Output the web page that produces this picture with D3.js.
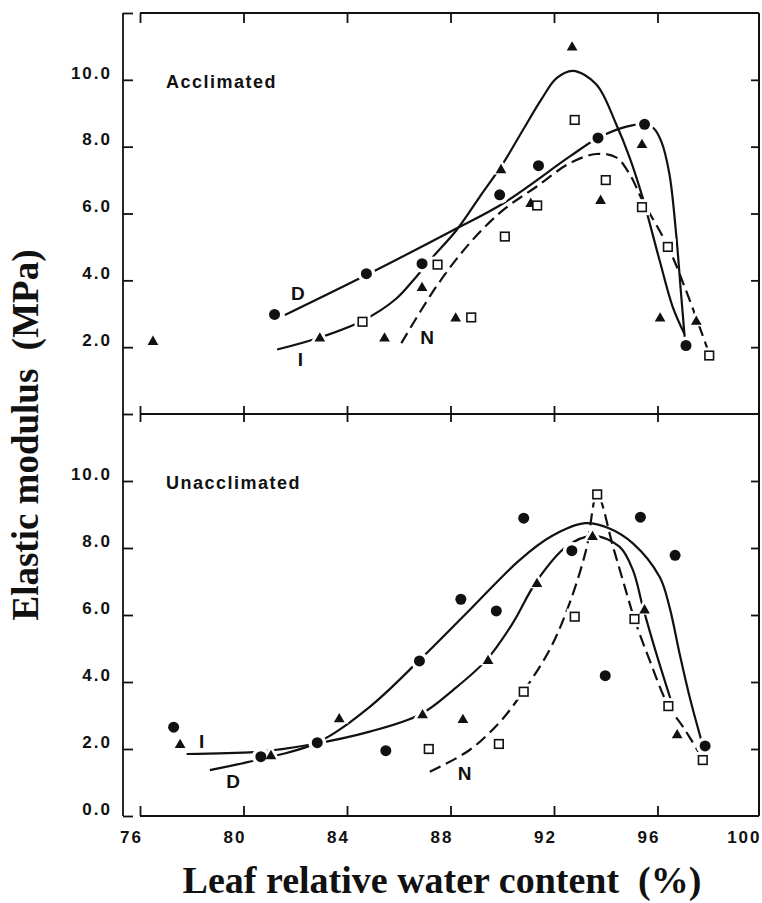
<!DOCTYPE html>
<html><head><meta charset="utf-8">
<script src="https://cdn.jsdelivr.net/npm/d3@7"></script>
<style>body{margin:0;background:#fff}</style>
</head><body><svg id="c" width="762" height="903"></svg>
<script>
// ---------- DATA ----------
const xTickValues = [76, 80, 84, 88, 92, 96, 100];
const yTickValuesTop = [2, 4, 6, 8, 10];
const yTickValuesBottom = [0, 2, 4, 6, 8, 10];
const panelTitles = ["Acclimated", "Unacclimated"];
const xTitle = "Leaf relative water content  (%)";
const yTitle = "Elastic modulus  (MPa)";

// Acclimated: observed points (RWC %, MPa)
const accD_pts = [[81.2,2.98],[84.75,4.2],[86.9,4.5],[89.9,6.56],[91.4,7.43],[93.7,8.26],[95.5,8.67],[97.1,2.05]];
const accI_pts = [[76.5,2.19],[82.95,2.29],[85.45,2.29],[86.9,3.8],[88.2,2.89],[89.95,7.33],[91.1,6.32],[92.7,11.0],[93.8,6.41],[95.4,8.08],[96.1,2.89],[97.5,2.79]];
const accN_pts = [[84.6,2.76],[87.5,4.47],[88.8,2.89],[90.1,5.31],[91.35,6.24],[92.8,8.8],[94.0,7.0],[95.4,6.19],[96.4,5.0],[98.0,1.75]];
// Acclimated: fitted curves
const accD_fit = [[81.6,2.96],[84.88,4.21],[88.1,5.5],[90.03,6.3],[92.6,7.7],[93.7,8.26],[94.8,8.6],[95.5,8.67],[95.85,8.55],[96.15,8.15],[96.46,7.18],[96.72,5.39],[96.91,3.6],[97.05,2.3]];
const accI_fit = [[81.3,1.93],[82.95,2.29],[84.62,2.8],[85.9,3.45],[86.68,4.11],[87.33,4.71],[88.23,5.5],[89.13,6.5],[90.03,7.5],[90.8,8.5],[91.5,9.4],[92.1,10.05],[92.73,10.27],[93.63,9.87],[94.4,8.68],[94.92,7.68],[95.42,6.49],[96.08,4.6],[96.59,3.2],[97.04,2.4]];
const accN_fit = [[86.1,2.12],[87.45,3.81],[88.74,5.11],[90.03,6.1],[91.32,6.8],[92.6,7.5],[93.63,7.78],[94.4,7.68],[94.92,7.18],[95.42,6.39],[96.41,5.0],[97.1,3.7],[98.0,1.8]];
const accLabels = [["D",82.1,3.62],["I",82.2,1.62],["N",87.1,2.3]];

// Unacclimated: observed points
const unD_pts = [[77.3,2.65],[80.67,1.77],[82.85,2.19],[85.5,1.95],[86.8,4.63],[88.4,6.47],[89.77,6.12],[90.83,8.89],[92.69,7.92],[93.98,4.19],[95.34,8.92],[96.68,7.78],[97.84,2.09]];
const unI_pts = [[77.55,2.15],[81.06,1.82],[83.7,2.92],[86.92,3.04],[88.48,2.9],[89.45,4.66],[91.34,6.96],[93.49,8.36],[95.5,6.17],[96.76,2.44]];
const unN_pts = [[87.16,2.0],[89.87,2.15],[90.83,3.71],[92.8,5.95],[93.67,9.6],[95.11,5.88],[96.42,3.28],[97.75,1.67]];
// Unacclimated: fitted curves
const unD_fit = [[78.7,1.37],[80.5,1.67],[82.85,2.19],[84.88,3.26],[86.81,4.66],[88.74,6.15],[90.67,7.64],[91.9,8.35],[93.2,8.74],[94.1,8.6],[95.05,8.14],[96.08,7.14],[96.46,6.25],[96.85,4.86],[97.24,3.56],[97.69,2.27]];
const unI_fit = [[77.8,1.85],[80.6,1.92],[82.5,2.12],[84.88,2.52],[86.85,3.04],[88.1,3.76],[89.39,4.66],[90.4,5.75],[91.32,7.0],[92.48,8.04],[93.49,8.36],[94.53,8.04],[95.05,7.34],[95.43,6.25],[95.95,4.86],[96.5,3.5]];
const unN_fit = [[87.2,1.32],[88.74,1.97],[89.9,2.8],[90.67,3.56],[91.83,4.96],[92.6,6.35],[93.24,7.94],[93.67,9.6],[94.28,8.04],[94.66,7.04],[95.11,5.88],[95.69,4.66],[96.42,3.29],[96.98,2.67],[97.62,1.87]];
const unLabels = [["I",78.38,2.22],["D",79.6,1.02],["N",88.55,1.27]];

// ---------- LAYOUT ----------
const svg = d3.select("#c");
const axisX = 123, frameRight = 759;
const x = d3.scaleLinear().domain([76, 100]).range([140, 761]);
const yTop = d3.scaleLinear().domain([0, 12]).range([414, 13]);
const yBot = d3.scaleLinear().domain([0, 12]).range([816, 414]);
const INK = "#111";
const tickFont = "'Liberation Sans', Arial, sans-serif";
const serif = "'Liberation Serif', 'Times New Roman', serif";

svg.append("rect").attr("width", 762).attr("height", 903).attr("fill", "#fff");
const g = svg.append("g");

const line = (x1,y1,x2,y2,w) => g.append("line").attr("x1",x1).attr("y1",y1).attr("x2",x2).attr("y2",y2)
  .attr("stroke", INK).attr("stroke-width", w||2);
line(axisX, yTop(12), axisX, yBot(0), 1.8);
line(x(76), yTop(12), frameRight, yTop(12));
line(frameRight, yTop(12), frameRight, yBot(0));
line(x(76), yTop(0), frameRight, yTop(0));
line(x(76), yBot(0), frameRight, yBot(0));

function styleAxis(sel, showLabels) {
  sel.select(".domain").remove();
  sel.selectAll(".tick line").attr("stroke", INK).attr("stroke-width", 1.8);
  sel.selectAll(".tick text").attr("fill", INK).style("font-family", tickFont)
     .style("font-weight", "bold").style("font-size", "17px").style("letter-spacing", "2px");
  if (!showLabels) sel.selectAll(".tick text").remove();
}

const fmt = d3.format(".1f");
const yAxTop = g.append("g").attr("transform", `translate(${axisX},0)`)
  .call(d3.axisLeft(yTop).tickValues([0].concat(yTickValuesTop, [12])).tickSizeInner(-10).tickSizeOuter(0).tickPadding(11)
  .tickFormat(d => yTickValuesTop.includes(d) ? fmt(d) : ""));
styleAxis(yAxTop, true);
yAxTop.selectAll(".tick text").attr("dy", "-0.1em");
const yAxBot = g.append("g").attr("transform", `translate(${axisX},0)`)
  .call(d3.axisLeft(yBot).tickValues(yTickValuesBottom).tickSizeInner(-10).tickSizeOuter(0).tickPadding(11).tickFormat(fmt));
styleAxis(yAxBot, true);
yAxBot.selectAll(".tick text").attr("dy", "-0.1em");

[yTop, yBot].forEach(s => {
  const a = g.append("g").attr("transform", `translate(${frameRight},0)`)
    .call(d3.axisRight(s).tickValues([2,4,6,8,10]).tickSizeInner(-8).tickSizeOuter(0));
  styleAxis(a, false);
});

const ax1 = g.append("g").attr("transform", `translate(0,${yTop(12)})`)
  .call(d3.axisTop(x).tickValues(xTickValues.slice(0, -1)).tickSizeInner(-10).tickSizeOuter(0));
styleAxis(ax1, false);
const ax2 = g.append("g").attr("transform", `translate(0,${yTop(0)})`)
  .call(d3.axisTop(x).tickValues(xTickValues.slice(0, -1)).tickSizeInner(8).tickSizeOuter(0));
styleAxis(ax2, false);
const ax3 = g.append("g").attr("transform", `translate(0,${yTop(0)})`)
  .call(d3.axisBottom(x).tickValues(xTickValues.slice(0, -1)).tickSizeInner(8).tickSizeOuter(0));
styleAxis(ax3, false);
const ax4 = g.append("g").attr("transform", `translate(0,${yBot(0)})`)
  .call(d3.axisBottom(x).tickValues(xTickValues).tickSizeInner(-10).tickSizeOuter(0).tickPadding(15));
styleAxis(ax4, true);
ax4.selectAll(".tick line").filter(d => d === 100).remove();
ax4.selectAll(".tick text").attr("dx", d => d === 100 ? "0" : "-9").attr("text-anchor", d => d === 100 ? "end" : "middle");

// ---------- PANELS ----------
const symTri = d3.symbol().type(d3.symbolTriangle);
function drawPanel(y, fits, pts, labels, title) {
  const p = g.append("g");
  const lineGen = d3.line().x(d => x(d[0])).y(d => y(d[1])).curve(d3.curveCatmullRom.alpha(0.5));
  fits.forEach((f, i) => {
    p.append("path").attr("d", lineGen(f)).attr("fill", "none").attr("stroke", INK)
      .attr("stroke-width", 2.2).attr("stroke-dasharray", i === 2 ? "12,6" : null);
  });
  const halo = p.append("g").attr("fill", "#fff");
  pts[0].forEach(d => halo.append("circle").attr("cx", x(d[0])).attr("cy", y(d[1])).attr("r", 9));
  pts[1].forEach(d => halo.append("path").attr("d", symTri.size(150)()).attr("transform", `translate(${x(d[0])},${y(d[1])})`));
  pts[2].forEach(d => halo.append("rect").attr("x", x(d[0]) - 8).attr("y", y(d[1]) - 8).attr("width", 16).attr("height", 16));
  pts[0].forEach(d => p.append("circle").attr("cx", x(d[0])).attr("cy", y(d[1])).attr("r", 5.5).attr("fill", INK));
  pts[1].forEach(d => p.append("path").attr("d", symTri.size(50)()).attr("transform", `translate(${x(d[0])},${y(d[1])+1})`).attr("fill", INK));
  pts[2].forEach(d => p.append("rect").attr("x", x(d[0]) - 4.3).attr("y", y(d[1]) - 4.3).attr("width", 8.6).attr("height", 8.6)
    .attr("fill", "#fff").attr("stroke", INK).attr("stroke-width", 1.6));
  labels.forEach(l => p.append("text").attr("x", x(l[1])).attr("y", y(l[2])).attr("text-anchor", "middle")
    .attr("dominant-baseline", "central").style("font-family", tickFont).style("font-weight", "bold")
    .style("font-size", "19px").attr("fill", INK).text(l[0]));
  p.append("text").attr("x", 166).attr("y", y(12) + 75).style("font-family", tickFont).style("font-weight", "bold")
    .style("font-size", "18px").style("letter-spacing", "1.5px").attr("fill", INK).text(title);
}
drawPanel(yTop, [accD_fit, accI_fit, accN_fit], [accD_pts, accI_pts, accN_pts], accLabels, panelTitles[0]);
drawPanel(yBot, [unD_fit, unI_fit, unN_fit], [unD_pts, unI_pts, unN_pts], unLabels, panelTitles[1]);

// ---------- AXIS TITLES ----------
svg.append("text").attr("x", 442).attr("y", 893).attr("text-anchor", "middle")
  .style("font-family", serif).style("font-weight", "bold").style("font-size", "38px").attr("fill", INK)
  .style("white-space", "pre").attr("xml:space", "preserve").text(xTitle);
svg.append("text").attr("transform", "translate(38,435) rotate(-90)").attr("text-anchor", "middle")
  .style("font-family", serif).style("font-weight", "bold").style("font-size", "37px").attr("fill", INK)
  .style("white-space", "pre").attr("xml:space", "preserve").text(yTitle);
</script></body></html>
